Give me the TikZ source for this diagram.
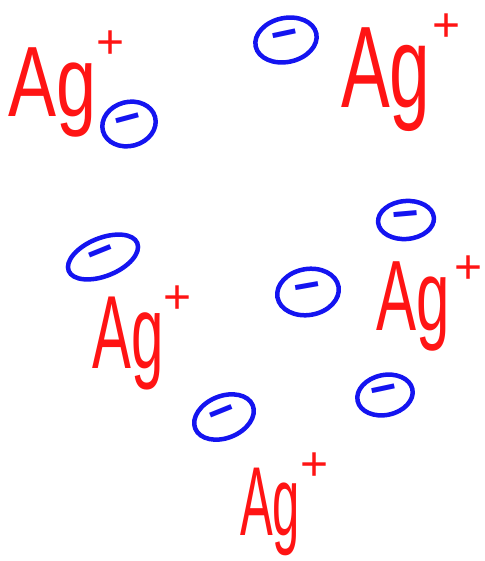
\documentclass[tikz,border=0pt]{standalone}
\usepackage{fontspec}
\setmainfont{Liberation Sans}
\usetikzlibrary{shapes.geometric}
\definecolor{ionred}{RGB}{255,20,20}
\definecolor{eblue}{RGB}{20,20,240}
\newcommand{\ionplus}[2]{\kern#1pt\raisebox{#2pt}{\fontsize{48}{48}\selectfont+}}
\tikzset{
  ion/.style={anchor=base west, inner sep=0pt, text=ionred, font=\fontsize{#1}{#1}\selectfont},
  electron/.style={ellipse, draw=eblue, line width=4.5pt, inner sep=0pt, text=eblue,
     font=\fontsize{46}{46}\selectfont\bfseries}
}
\begin{document}
\begin{tikzpicture}[x=1pt,y=-1pt]
\useasboundingbox (0,0) rectangle (484,561);
% ions
\node[ion=100] (ag1) at (8,117) {\scalebox{0.72}[1]{Ag}\ionplus{0}{58}};
\node[ion=116] (ag2) at (341,108) {\scalebox{0.63}[1]{Ag}\ionplus{2}{66}};
\node[ion=104] (ag3) at (92,368) {\scalebox{0.56}[1]{Ag}\ionplus{0}{55}};
\node[ion=100] (ag4) at (376,330) {\scalebox{0.6}[1]{Ag}\ionplus{5}{47}};
\node[ion=98] (ag5) at (240,535) {\scalebox{0.5}[1]{Ag}\ionplus{0}{55}};
% electrons
\node[electron, minimum width=54pt, minimum height=44pt, rotate=15] (e1) at (129,124) {−};
\node[electron, minimum width=62pt, minimum height=44pt, rotate=12] (e2) at (286,40) {−};
\node[electron, minimum width=74pt, minimum height=38pt, rotate=22] (e3) at (103,257) {−};
\node[electron, minimum width=62pt, minimum height=46pt, rotate=10] (e4) at (308,292) {−};
\node[electron, minimum width=56pt, minimum height=38pt, rotate=5] (e5) at (406,220) {−};
\node[electron, minimum width=56pt, minimum height=40pt, rotate=12] (e6) at (385,395) {−};
\node[electron, minimum width=62pt, minimum height=42pt, rotate=22] (e7) at (224,417) {−};
\end{tikzpicture}
\end{document}
